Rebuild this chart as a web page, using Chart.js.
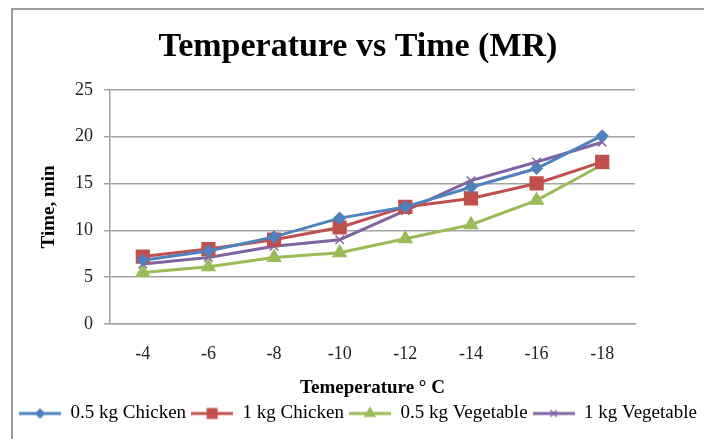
<!DOCTYPE html>
<html>
<head>
<meta charset="utf-8">
<script src="https://cdn.jsdelivr.net/npm/chart.js@4.4.1/dist/chart.umd.min.js"></script>
<style>
  html, body { margin: 0; padding: 0; background: #fff; }
  #wrap { position: relative; width: 704px; height: 439px; }
</style>
</head>
<body>
<div id="wrap"><canvas id="chart"></canvas></div>
<script>
(function () {
  'use strict';

  const temperatures  = ['-4', '-6', '-8', '-10', '-12', '-14', '-16', '-18'];
  const chicken05     = [6.8, 7.8, 9.3, 11.3, 12.5, 14.6, 16.6, 20.1];
  const chicken1      = [7.2, 8.0, 9.0, 10.3, 12.5, 13.4, 15.0, 17.3];
  const vegetable05   = [5.5, 6.1, 7.1, 7.6, 9.1, 10.6, 13.2, 17.0];
  const vegetable1    = [6.4, 7.1, 8.3, 9.0, 12.1, 15.3, 17.3, 19.4];
  const yTicks        = [0, 5, 10, 15, 20, 25];

  const FONT = "'Liberation Serif', 'DejaVu Serif', serif";
  const GRID = '#a3a3a3';

  const series = [
    { label: '0.5 kg Chicken',   data: chicken05,   color: '#4f81bd', style: 'rectRot',  radius: 5.5 },
    { label: '1 kg Chicken',     data: chicken1,    color: '#c0504d', style: 'rect',     radius: 9 },
    { label: '0.5 kg Vegetable', data: vegetable05, color: '#9bbb59', style: 'triangle', radius: 7.5 },
    { label: '1 kg Vegetable',   data: vegetable1,  color: '#8064a2', style: 'crossRot', radius: 6 }
  ];

  // little line + marker swatch for the legend
  function swatch(s) {
    const c = document.createElement('canvas');
    c.width = 42; c.height = 18;
    const ctx = c.getContext('2d');
    ctx.strokeStyle = s.color;
    ctx.fillStyle = s.color;
    ctx.lineWidth = 3;
    ctx.beginPath();
    ctx.moveTo(0, 9);
    ctx.lineTo(42, 9);
    ctx.stroke();
    ctx.lineWidth = 1.5;
    Chart.helpers.drawPoint(ctx, { pointStyle: s.style, radius: s.radius * 0.75, rotation: 0, borderWidth: 1.5 }, 21, 9);
    return c;
  }

  const framePlugin = {
    id: 'frame',
    beforeDraw(chart) {
      const ctx = chart.ctx;
      ctx.save();
      ctx.fillStyle = '#fff';
      ctx.fillRect(0, 0, chart.width, chart.height);
      ctx.strokeStyle = '#9a9a9a';
      ctx.lineWidth = 2;
      ctx.beginPath();
      ctx.moveTo(12, chart.height);
      ctx.lineTo(12, 9);
      ctx.lineTo(chart.width, 9);
      ctx.stroke();
      ctx.restore();
    }
  };

  new Chart(document.getElementById('chart'), {
    type: 'line',
    data: {
      labels: temperatures,
      datasets: series.map(function (s) {
        return {
          label: s.label,
          data: s.data,
          borderColor: s.color,
          backgroundColor: s.color,
          borderWidth: 3,
          pointStyle: s.style,
          pointRadius: s.radius,
          pointHoverRadius: s.radius,
          pointBorderWidth: 1.5,
          pointBorderColor: s.color,
          pointBackgroundColor: s.color,
          tension: 0,
          fill: false
        };
      })
    },
    options: {
      responsive: true,
      maintainAspectRatio: false,
      animation: false,
      layout: { padding: { left: 12, right: 0, top: 0, bottom: 6 } },
      plugins: {
        title: {
          display: true,
          text: 'Temperature vs Time (MR)',
          color: '#000',
          font: { family: FONT, size: 34, weight: 'bold' },
          padding: { top: 27, bottom: 22 }
        },
        legend: {
          position: 'bottom',
          labels: {
            usePointStyle: true,
            pointStyleWidth: 42,
            boxHeight: 18,
            padding: 5,
            color: '#000',
            font: { family: FONT, size: 19 },
            generateLabels: function (chart) {
              return series.map(function (s, i) {
                return {
                  text: s.label,
                  pointStyle: swatch(s),
                  fillStyle: s.color,
                  strokeStyle: s.color,
                  lineWidth: 0,
                  datasetIndex: i,
                  hidden: false
                };
              });
            }
          }
        },
        tooltip: { enabled: false }
      },
      scales: {
        x: {
          offset: true,
          afterFit: function (scale) { scale.height = 75; },
          grid: { display: false, drawTicks: false },
          border: { display: true, color: GRID, width: 1.5 },
          ticks: {
            color: '#222',
            padding: 19,
            maxRotation: 0,
            font: { family: FONT, size: 18 }
          },
          title: {
            display: true,
            text: 'Temeperature ° C',
            color: '#000',
            padding: { top: 4, bottom: 0 },
            font: { family: FONT, size: 19, weight: 'bold' }
          }
        },
        y: {
          min: 0,
          max: 25,
          afterFit: function (scale) { scale.width = 98; },
          afterBuildTicks: function (scale) {
            scale.ticks = yTicks.map(function (v) { return { value: v }; });
          },
          grid: { color: GRID, lineWidth: 1.5, tickLength: 6 },
          border: { display: true, color: GRID, width: 1.5 },
          ticks: {
            color: '#222',
            padding: 11,
            font: { family: FONT, size: 18 }
          },
          title: {
            display: true,
            text: 'Time, min',
            color: '#000',
            padding: { top: 26, bottom: 0 },
            font: { family: FONT, size: 19, weight: 'bold' }
          }
        },
        yR: {
          position: 'right',
          display: true,
          afterFit: function (scale) { scale.width = 69; },
          grid: { display: false, drawTicks: false },
          border: { display: false },
          ticks: { display: false }
        }
      }
    },
    plugins: [framePlugin]
  });
})();
</script>
</body>
</html>
